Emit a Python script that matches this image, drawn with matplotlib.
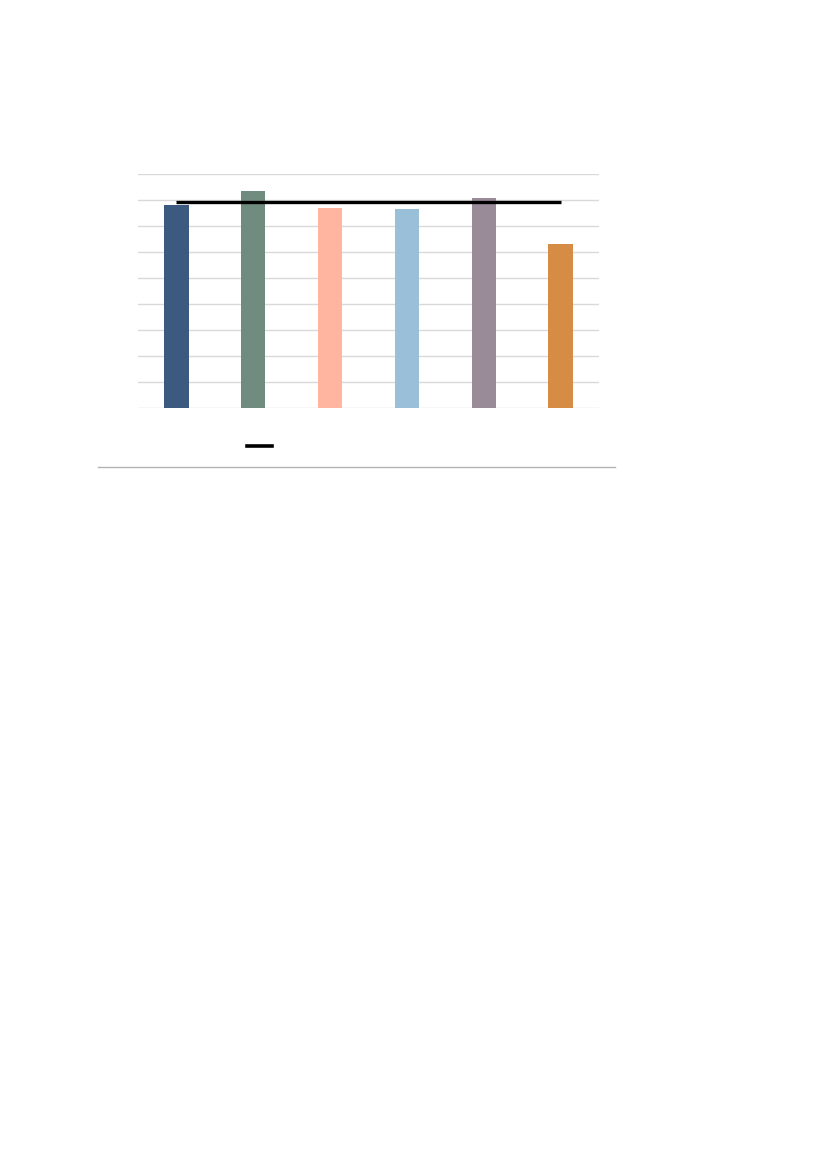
import matplotlib
matplotlib.use("Agg")
import matplotlib.pyplot as plt
from matplotlib.lines import Line2D

categories = ["A", "B", "C", "D", "E", "F"]
values = [7.81, 8.33, 7.69, 7.65, 8.06, 6.30]
reference = [7.91, 7.91, 7.91, 7.91, 7.91, 7.91]
bar_colors = ["#3c5a80", "#6f8c7e", "#ffb5a0", "#99bfd9", "#9a8b99", "#d78c45"]
y_ticks = [0, 1, 2, 3, 4, 5, 6, 7, 8, 9]

W, H = 827, 1169
fig = plt.figure(figsize=(W / 100, H / 100), dpi=100)
fig.patch.set_facecolor("white")

ax = fig.add_axes([138 / W, 1 - 408 / H, (599 - 138) / W, (408 - 174) / H])
x = list(range(len(categories)))
ax.bar(x, values, width=0.315, color=bar_colors, zorder=3)
ax.plot(x, reference, color="black", linewidth=2.4, zorder=4,
        solid_capstyle="butt")
ax.set_xlim(-0.5, len(categories) - 0.5)
ax.set_ylim(0, 9)
ax.set_yticks(y_ticks)
ax.yaxis.grid(True, color="#d9d9d9", linewidth=1.0, zorder=0)
ax.set_axisbelow(True)
ax.tick_params(left=False, bottom=False, labelleft=False, labelbottom=False)
for s in ax.spines.values():
    s.set_visible(False)

handle = Line2D([], [], color="black", linewidth=2.6)
fig.legend([handle], [""], loc="center",
           bbox_to_anchor=(259.5 / W, 1 - 446.7 / H),
           frameon=False, handlelength=1.85, handletextpad=0,
           borderpad=0, borderaxespad=0, fontsize=10)

fig.add_artist(Line2D([98 / W, 615 / W], [1 - 466.7 / H, 1 - 466.7 / H],
                      color="#b3b3b3", linewidth=1.0))

fig.savefig("out.png", dpi=100)
